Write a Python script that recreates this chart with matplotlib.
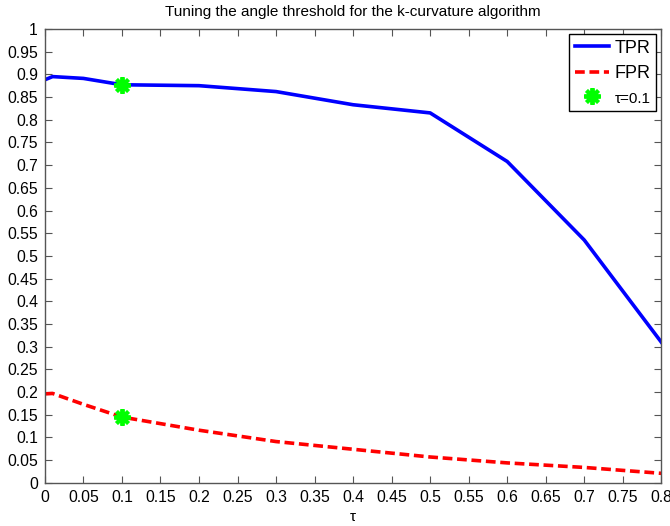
import numpy as np
import matplotlib
matplotlib.use("Agg")
import matplotlib.pyplot as plt

plt.rcParams['font.family'] = ['Liberation Sans', 'DejaVu Sans']

# data
tau = [0.0, 0.01, 0.05, 0.1, 0.2, 0.3, 0.4, 0.5, 0.6, 0.7, 0.8]
tpr = [0.888, 0.895, 0.891, 0.877, 0.875, 0.862, 0.833, 0.815, 0.708, 0.535, 0.31]
fpr = [0.196, 0.197, 0.173, 0.145, 0.116, 0.091, 0.074, 0.057, 0.044, 0.034, 0.021]
star_x = [0.1, 0.1]
star_y = [0.877, 0.145]

fig = plt.figure(figsize=(6.7, 5.26), dpi=100)
ax = fig.add_axes([0.067, 0.082, 0.92, 0.863])

ax.plot(tau, tpr, '-', color='#0000ff', lw=2.6, label='TPR')
ax.plot(tau, fpr, '--', color='#ff0000', lw=2.6, dashes=(2.7, 1.3), label='FPR')
ax.plot(star_x, star_y, ls='none', marker=(8, 2, 0), ms=12, mew=2.8,
        color='#00ff00', label='\u03c4=0.1')

ax.set_xlim(0, 0.8)
ax.set_ylim(0, 1)
xt = np.round(np.arange(0, 0.801, 0.05), 2)
yt = np.round(np.arange(0, 1.001, 0.05), 2)
ax.set_xticks(xt)
ax.set_yticks(yt)
ax.set_xticklabels(['%g' % v for v in xt])
ax.set_yticklabels(['%g' % v for v in yt])
ax.tick_params(direction='in', top=True, right=True, length=5, labelsize=11.3,
               color='#555555', pad=5)
for s in ax.spines.values():
    s.set_color('#555555')
    s.set_linewidth(1.0)

ax.set_title('Tuning the angle threshold for the k-curvature algorithm', fontsize=11, pad=9)
ax.set_xlabel('\u03c4', fontsize=11, labelpad=4)

leg = ax.legend(loc='upper right', fontsize=13, fancybox=False, framealpha=1,
                edgecolor='black', handlelength=1.9, handletextpad=0.3,
                labelspacing=0.45, borderpad=0.3, borderaxespad=0.3)
leg.get_frame().set_linewidth(1.0)
leg.get_texts()[2].set_fontsize(11)

fig.savefig('out.png', dpi=100)
